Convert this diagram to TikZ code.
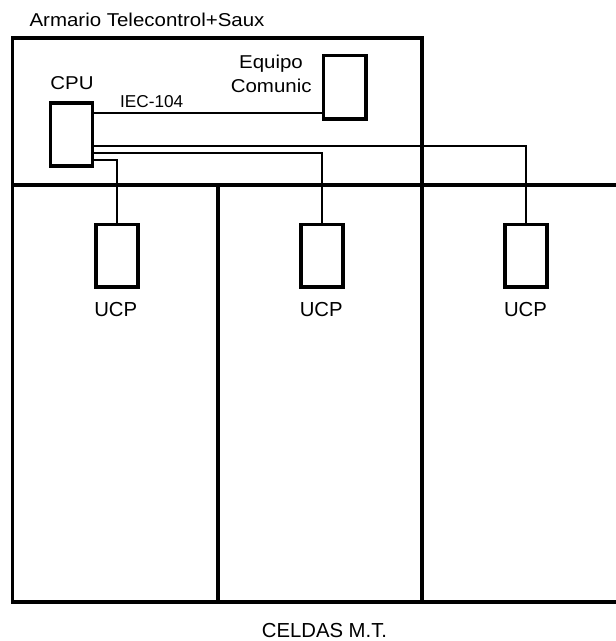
\documentclass[tikz,border=0pt]{standalone}
\usepackage{fontspec}
\setmainfont{Liberation Sans}
\begin{document}
\begin{tikzpicture}[x=1pt,y=-1pt,
  frame/.style={line width=3.8pt,line cap=rect},
  unitbox/.style={draw,line width=3.6pt,inner sep=0pt,outer sep=0pt,minimum width=42pt,minimum height=62.5pt},
  wire/.style={line width=2pt},
  lblw/.style={font=\fontsize{18.6}{22}\selectfont,xscale=1.1,inner sep=0pt,anchor=base},
  lbl/.style={font=\fontsize{20.3}{24}\selectfont,inner sep=0pt,anchor=base}]
\useasboundingbox (0,0) rectangle (616,641);
% frames
\draw[frame] (12.5,185) -- (12.5,38.3) -- (421.8,38.3) -- (421.8,601.7);
\draw[frame] (12.5,185) -- (618,185);
\draw[frame] (12.5,185) -- (12.5,601.7) -- (618,601.7);
\draw[frame] (218.3,185) -- (218.3,601.7);
% boxes
\node[unitbox] (cpu) at (71.6,134.5) {};
\node[unitbox,minimum width=42.7pt,minimum height=63.3pt] (equipo) at (344.7,87.3) {};
\node[unitbox] (ucp1) at (116.7,255.8) {};
\node[unitbox] (ucp2) at (321.7,255.8) {};
\node[unitbox] (ucp3) at (525.8,255.8) {};
% connectors
\coordinate (p0) at ([yshift=21.5pt]cpu.east);
\coordinate (p3) at ([yshift=-11.2pt]cpu.east);
\coordinate (p2) at ([yshift=-18.2pt]cpu.east);
\coordinate (p1) at ([yshift=-25.5pt]cpu.east);
\draw[wire] (p0) -- (p0 -| equipo.west);
\draw[wire] (p3) -| (ucp3.north);
\draw[wire] (p2) -| (ucp2.north);
\draw[wire] (p1) -| (ucp1.north);
% labels
\node[lblw] (tarm) at (147,26) {Armario Telecontrol+Saux};
\node[lblw] (tcpu) at (72,89.3) {CPU};
\node[lblw] (teq1) at (271,68.3) {Equipo};
\node[lblw] (teq2) at (271.2,92.7) {Comunic};
\node[inner sep=0pt,anchor=base,font=\fontsize{17.2}{20}\selectfont] (tiec) at (151.7,107.3) {IEC-104};
\node[lbl] (tu1) at (115.7,316.7) {UCP};
\node[lbl] (tu2) at (321.2,316.7) {UCP};
\node[lbl] (tu3) at (525.5,316.7) {UCP};
\node[lbl] (tcel) at (324.5,637.2) {CELDAS M.T.};
\end{tikzpicture}
\end{document}
